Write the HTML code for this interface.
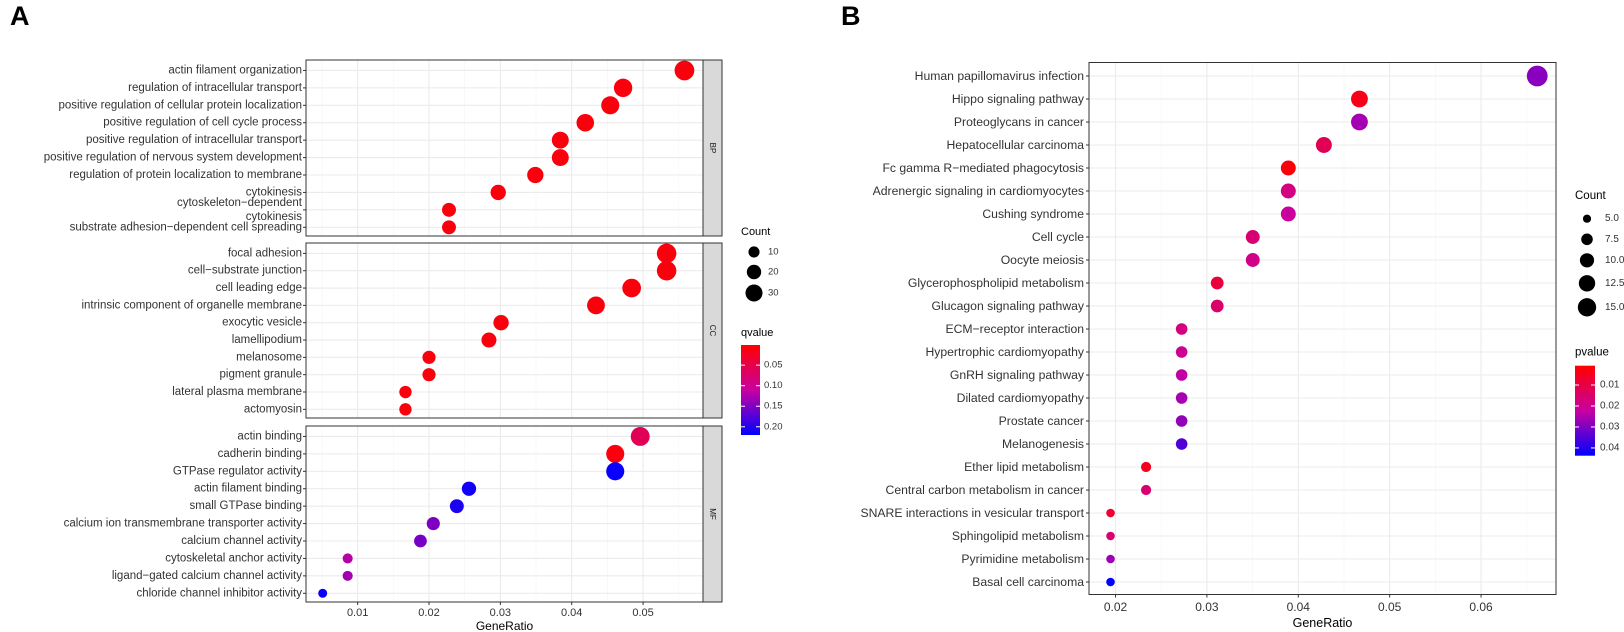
<!DOCTYPE html>
<html><head><meta charset="utf-8"><style>
html,body{margin:0;padding:0;background:#fff;}
svg{display:block;font-family:"Liberation Sans",Arial,sans-serif;}
</style></head><body>
<svg id="fig" width="1624" height="632" viewBox="0 0 1624 632"></svg>
<script>
// ---------- Panel A data ----------
const aTerms = ["actin filament organization","regulation of intracellular transport","positive regulation of cellular protein localization","positive regulation of cell cycle process","positive regulation of intracellular transport","positive regulation of nervous system development","regulation of protein localization to membrane","cytokinesis","cytoskeleton\u2212dependent|cytokinesis","substrate adhesion\u2212dependent cell spreading",
"focal adhesion","cell\u2212substrate junction","cell leading edge","intrinsic component of organelle membrane","exocytic vesicle","lamellipodium","melanosome","pigment granule","lateral plasma membrane","actomyosin",
"actin binding","cadherin binding","GTPase regulator activity","actin filament binding","small GTPase binding","calcium ion transmembrane transporter activity","calcium channel activity","cytoskeletal anchor activity","ligand\u2212gated calcium channel activity","chloride channel inhibitor activity"];
const aGroups = ["BP","BP","BP","BP","BP","BP","BP","BP","BP","BP","CC","CC","CC","CC","CC","CC","CC","CC","CC","CC","MF","MF","MF","MF","MF","MF","MF","MF","MF","MF"];
const aRatio = [0.0558,0.0472,0.0454,0.0419,0.0384,0.0384,0.0349,0.0297,0.0228,0.0228,
0.0533,0.0533,0.0484,0.0434,0.0301,0.0284,0.0200,0.0200,0.0167,0.0167,
0.0496,0.0461,0.0461,0.0256,0.0239,0.0206,0.0188,0.0086,0.0086,0.0051];
const aCount = [33,28,27,25,23,23,21,18,14,14,32,32,29,26,18,17,12,12,10,10,30,27,27,15,14,12,11,5,5,3];
const aQ = [0.01,0.01,0.01,0.01,0.01,0.01,0.01,0.01,0.01,0.01,
0.01,0.01,0.01,0.01,0.01,0.01,0.01,0.01,0.01,0.01,
0.06,0.01,0.215,0.21,0.205,0.15,0.155,0.12,0.13,0.215];
const aXTicks = [0.01,0.02,0.03,0.04,0.05];
const aCountLegend = [10,20,30];
const aQLegend = [0.05,0.10,0.15,0.20];

// ---------- Panel B data ----------
const bTerms = ["Human papillomavirus infection","Hippo signaling pathway","Proteoglycans in cancer","Hepatocellular carcinoma","Fc gamma R\u2212mediated phagocytosis","Adrenergic signaling in cardiomyocytes","Cushing syndrome","Cell cycle","Oocyte meiosis","Glycerophospholipid metabolism","Glucagon signaling pathway","ECM\u2212receptor interaction","Hypertrophic cardiomyopathy","GnRH signaling pathway","Dilated cardiomyopathy","Prostate cancer","Melanogenesis","Ether lipid metabolism","Central carbon metabolism in cancer","SNARE interactions in vesicular transport","Sphingolipid metabolism","Pyrimidine metabolism","Basal cell carcinoma"];
const bCount = [17,12,12,11,10,10,10,9,9,8,8,7,7,7,7,7,7,6,6,5,5,5,5];
const bTotal = 257;
const bP = [0.029,0.004,0.026,0.012,0.002,0.018,0.022,0.016,0.019,0.009,0.015,0.018,0.02,0.023,0.026,0.028,0.035,0.005,0.016,0.007,0.016,0.027,0.0437];
const bXTicks = [0.02,0.03,0.04,0.05,0.06];
const bCountLegend = [5.0,7.5,10.0,12.5,15.0];
const bPLegend = [0.01,0.02,0.03,0.04];

const NS="http://www.w3.org/2000/svg";
const svg=document.getElementById('fig');
function mk(tag,attrs,parent){const e=document.createElementNS(NS,tag);for(const k in attrs)e.setAttribute(k,attrs[k]);(parent||svg).appendChild(e);return e;}
function txt(s,x,y,size,anchor,parent,fill){const t=mk('text',{x:x,y:y,'font-size':size,'text-anchor':anchor||'start',fill:fill||'#333','dominant-baseline':'central'},parent);t.textContent=s;return t;}
function colorAt(t){
  t=Math.max(0,Math.min(1,t));
  const stops=[[0,[255,0,0]],[0.5,[200,0,160]],[1,[0,0,255]]];
  let a=stops[0],b=stops[1];if(t>0.5){a=stops[1];b=stops[2];}
  const u=(t-a[0])/(b[0]-a[0]);
  const c=a[1].map((v,i)=>Math.round(v+(b[1][i]-v)*u));
  return 'rgb('+c.join(',')+')';
}
function fmt2(v){return v.toFixed(2);}

// ================= PANEL A =================
const gA=mk('g',{});


const lA=txt('A',10,16,27,'start',gA,'#000');lA.setAttribute('font-weight','bold');

const aX0=306,aX1=703,aStripR=722;
const aXmin=0.00276,aXmax=0.0584;
function ax(v){return aX0+(v-aXmin)/(aXmax-aXmin)*(aX1-aX0);}
const aPanels={BP:[60,236],CC:[243,418],MF:[426,602]};
const aRowY=[];
const aGroupNames=["BP","CC","MF"];
aGroupNames.forEach(g=>{
  const [t,b]=aPanels[g];
  const idx=aGroups.map((gg,i)=>gg===g?i:-1).filter(i=>i>=0);
  const n=idx.length;const step=(b-t)/(n+0.1);
  idx.forEach((i,k)=>{aRowY[i]=t+step*(k+0.6);});
  const pg=mk('g',{},gA);
  
  
  mk('rect',{x:aX0,y:t,width:aX1-aX0,height:b-t,fill:'#fff'},pg);
  for(let v=0.005;v<aXmax;v+=0.005){const x=ax(v);if(x<aX0)continue;
    const major=Math.abs(v*100-Math.round(v*100))<1e-6;
    mk('line',{x1:x,x2:x,y1:t,y2:b,stroke:major?'#EBEBEB':'#F5F5F5','stroke-width':major?1.1:0.6},pg);}
  idx.forEach(i=>mk('line',{x1:aX0,x2:aX1,y1:aRowY[i],y2:aRowY[i],stroke:'#EBEBEB','stroke-width':1.1},pg));
  const st=mk('rect',{x:aX1,y:t,width:aStripR-aX1,height:b-t,fill:'#D9D9D9',stroke:'#333','stroke-width':1},pg);
  
  const sl=txt(g,(aX1+aStripR)/2,(t+b)/2,8,'middle',pg,'#1A1A1A');
  sl.setAttribute('transform','rotate(90 '+((aX1+aStripR)/2)+' '+((t+b)/2)+')');
  
  const br=mk('rect',{x:aX0,y:t,width:aX1-aX0,height:b-t,fill:'none',stroke:'#333','stroke-width':1},pg);
  
});
function aRad(c){const cmin=3,cmax=34,rmin=4.5,rmax=10;return Math.sqrt(rmin*rmin+(c-cmin)/(cmax-cmin)*(rmax*rmax-rmin*rmin));}
const aQmin=0.001,aQmax=0.22;
aTerms.forEach((term,i)=>{
  const y=aRowY[i];
  mk('line',{x1:aX0-3,x2:aX0,y1:y,y2:y,stroke:'#333','stroke-width':1},gA);
  const lines=term.split('|');
  if(lines.length===1){const t=txt(term,aX0-4,y,11.5,'end',gA);}
  else{lines.forEach((ln,k)=>{const t=txt(ln,aX0-4,y-7+k*14,11.5,'end',gA);});}
  const c=mk('ellipse',{cx:ax(aRatio[i]),cy:y,rx:aRad(aCount[i]),ry:aRad(aCount[i]),fill:colorAt((aQ[i]-aQmin)/(aQmax-aQmin))},gA);
  
  
});
aXTicks.forEach(v=>{const x=ax(v);
  mk('line',{x1:x,x2:x,y1:602,y2:605,stroke:'#333','stroke-width':1},gA);
  const t=txt(fmt2(v),x,613,11,'middle',gA);});
const axA=txt('GeneRatio',(aX0+aX1)/2,626,12,'middle',gA,'#000');

const clA=mk('g',{},gA);
txt('Count',741,232,11,'start',clA,'#000');
const aLegY=[252,272,293];
aCountLegend.forEach((c,k)=>{const e=mk('circle',{cx:754,cy:aLegY[k],r:aRad(c)*0.9,fill:'#000'},clA);
  
  txt(String(c),768,aLegY[k],9.5,'start',clA);});
const qlA=mk('g',{},gA);
txt('qvalue',741,333,11,'start',qlA,'#000');
const defs=mk('defs',{});
const grA=mk('linearGradient',{id:'gradA',x1:0,y1:0,x2:0,y2:1},defs);
for(let k=0;k<=10;k++)mk('stop',{offset:k/10,'stop-color':colorAt(k/10)},grA);
const cbTop=345,cbBot=435;
mk('rect',{x:741,y:cbTop,width:19,height:cbBot-cbTop,fill:'url(#gradA)'},qlA);
aQLegend.forEach(v=>{const y=cbTop+(v-aQmin)/(aQmax-aQmin)*(cbBot-cbTop);
  mk('line',{x1:741,x2:745,y1:y,y2:y,stroke:'#fff','stroke-width':1},qlA);
  mk('line',{x1:756,x2:760,y1:y,y2:y,stroke:'#fff','stroke-width':1},qlA);
  txt(fmt2(v),764,y,9.5,'start',qlA);});

// ================= PANEL B =================
const gB=mk('g',{});


const lB=txt('B',841,16,27,'start',gB,'#000');lB.setAttribute('font-weight','bold');

const bX0=1089,bX1=1556,bT=62.5,bB=594.5;
const bXmin=0.0171,bXmax=0.0682;
function bx(v){return bX0+(v-bXmin)/(bXmax-bXmin)*(bX1-bX0);}
const bStep=23,bFirst=76;
function by(i){return bFirst+i*bStep;}
mk('rect',{x:bX0,y:bT,width:bX1-bX0,height:bB-bT,fill:'#fff'},gB);
for(let v=0.015;v<bXmax;v+=0.005){const x=bx(v);if(x<bX0)continue;
  const major=Math.abs(v*100-Math.round(v*100))<1e-6;
  mk('line',{x1:x,x2:x,y1:bT,y2:bB,stroke:major?'#EBEBEB':'#F5F5F5','stroke-width':major?1.1:0.6},gB);}
bTerms.forEach((t,i)=>mk('line',{x1:bX0,x2:bX1,y1:by(i),y2:by(i),stroke:'#EBEBEB','stroke-width':1.1},gB));
const bBorder=mk('rect',{x:bX0,y:bT,width:bX1-bX0,height:bB-bT,fill:'none',stroke:'#333','stroke-width':1},gB);

function bRad(c){const cmin=5,cmax=17,rmin=4.3,rmax=10.4;return Math.sqrt(rmin*rmin+(c-cmin)/(cmax-cmin)*(rmax*rmax-rmin*rmin));}
const bPmin=0.0008,bPmax=0.0437;
bTerms.forEach((term,i)=>{
  const y=by(i);
  mk('line',{x1:bX0-3,x2:bX0,y1:y,y2:y,stroke:'#333','stroke-width':1},gB);
  const t=txt(term,bX0-5,y,12.2,'end',gB);
  const c=mk('ellipse',{cx:bx(bCount[i]/bTotal),cy:y,rx:bRad(bCount[i]),ry:bRad(bCount[i]),fill:colorAt((bP[i]-bPmin)/(bPmax-bPmin))},gB);
  
  
});
bXTicks.forEach(v=>{const x=bx(v);
  mk('line',{x1:x,x2:x,y1:bB,y2:bB+3,stroke:'#333','stroke-width':1},gB);
  const t=txt(fmt2(v),x,607,12,'middle',gB);});
const axB=txt('GeneRatio',(bX0+bX1)/2,623,12.5,'middle',gB,'#000');

const clB=mk('g',{},gB);
txt('Count',1575,196,11.5,'start',clB,'#000');
const bLegY=[218.7,239.3,260.3,283.3,307.3];
bCountLegend.forEach((c,k)=>{const e=mk('circle',{cx:1587,cy:bLegY[k],r:bRad(c)*0.95,fill:'#000'},clB);
  
  txt(c.toFixed(1),1605,bLegY[k],10,'start',clB);});
const plB=mk('g',{},gB);
txt('pvalue',1575,352.7,11.5,'start',plB,'#000');
const grB=mk('linearGradient',{id:'gradB',x1:0,y1:0,x2:0,y2:1},defs);
for(let k=0;k<=10;k++)mk('stop',{offset:k/10,'stop-color':colorAt(k/10)},grB);
const pTop=365.7,pBot=455.7;
mk('rect',{x:1575,y:pTop,width:20,height:pBot-pTop,fill:'url(#gradB)'},plB);
bPLegend.forEach(v=>{const y=pTop+(v-bPmin)/(bPmax-bPmin)*(pBot-pTop);
  mk('line',{x1:1575,x2:1579,y1:y,y2:y,stroke:'#fff','stroke-width':1},plB);
  mk('line',{x1:1591,x2:1595,y1:y,y2:y,stroke:'#fff','stroke-width':1},plB);
  txt(fmt2(v),1600,y,10,'start',plB);});
</script>
</body></html>
